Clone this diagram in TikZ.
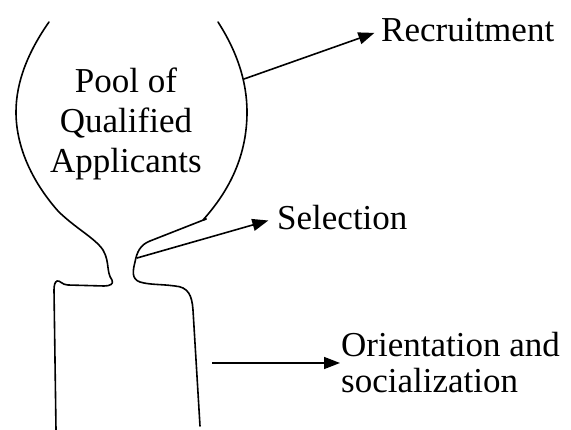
\documentclass[tikz,border=0pt]{standalone}
\usepackage{fontspec}
\setmainfont{Liberation Serif}
\usetikzlibrary{arrows.meta}
\tikzset{
  outline/.style={line width=1.6pt, line join=round, line cap=round},
  lbl/.style={inner sep=0pt, font=\fontsize{35}{40}\selectfont},
  conn/.style={line width=1.6pt, -{Triangle[length=16pt,width=12pt]}}
}
\begin{document}
\begin{tikzpicture}[x=1pt,y=-1pt]
\path[use as bounding box] (0,0) rectangle (571,430);
% funnel outline
\draw[outline] (49,22) .. controls (28,52) and (16,82) .. (16,112)
  .. controls (16,150) and (35,185) .. (58,211)
  .. controls (75,228) and (95,238) .. (103,250)
  .. controls (110,262) and (106,272) .. (112,280)
  .. controls (114,284) and (110,286) .. (104,286)
  -- (68,285) .. controls (62,285) and (60,280) .. (57,281)
  .. controls (55,282) and (54,285) .. (54,290) -- (56,430);
\draw[outline] (218,22) .. controls (236,50) and (247,80) .. (247,112)
  .. controls (247,155) and (230,190) .. (203,220) -- (206,219);
\draw[outline] (206,219) -- (150,241)
  .. controls (140,245) and (137,252) .. (135,262)
  .. controls (133,270) and (131,279) .. (140,282)
  .. controls (150,285) and (160,284) .. (175,286)
  .. controls (188,287) and (192,295) .. (193,310) -- (200,426);
% labels
\node[lbl, align=center] (pool) at (126,124) {Pool of\\Qualified\\Applicants};
\node[lbl, anchor=base west] (rec) at (381,42) {Recruitment};
\node[lbl, anchor=base west] (sel) at (277,230) {Selection};
\node[lbl, align=left, anchor=west, font=\fontsize{35}{36}\selectfont] (ori) at (341,362.4) {Orientation and\\socialization};
% connectors
\coordinate (r0) at (244,79);
\coordinate (s0) at (137,258);
\coordinate (o0) at (212,363);
\draw[conn, shorten >=7pt] (r0) -- (rec.west);
\draw[conn, shorten >=9pt] (s0) -- (sel.west);
\draw[conn, shorten >=1pt] (o0) -- (o0 -| ori.west);
\end{tikzpicture}
\end{document}
